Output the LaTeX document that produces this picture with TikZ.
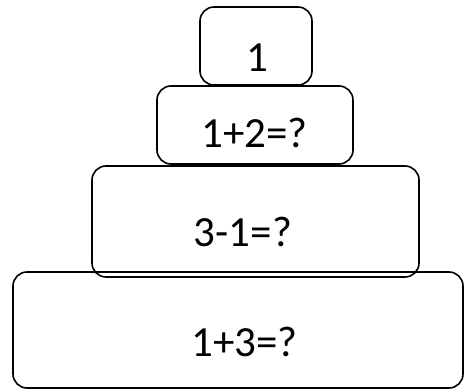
\documentclass[tikz,border=0pt]{standalone}
\usepackage{fontspec}
\setmainfont{Carlito}

\begin{document}
\begin{tikzpicture}[x=1pt,y=-1pt,
	tier/.style={draw,line width=1.6pt,rounded corners=14pt,inner sep=0pt},
	sum/.style={inner sep=0pt,anchor=base,font=\fontsize{43}{50}\selectfont}]
	\useasboundingbox (0,0) rectangle (464,390);
	% the four stacked boxes, top to bottom
	\node[tier,minimum width=112pt,minimum height=78pt] (one) at (256,46) {};
	\node[tier,minimum width=196pt,minimum height=78pt] (two) at (255,125) {};
	\node[tier,minimum width=327pt,minimum height=111pt] (three) at (255.5,221.5) {};
	\node[tier,minimum width=450pt,minimum height=116pt] (four) at (238,330) {};
	
	\node[sum] (onetext) at (257,72) {1};
	\node[sum] (twotext) at (254.5,148) {1+2=?};
	\node[sum] (threetext) at (243,247) {3-1=?};
	\node[sum] (fourtext) at (244.5,357) {1+3=?};
\end{tikzpicture}
\end{document}
